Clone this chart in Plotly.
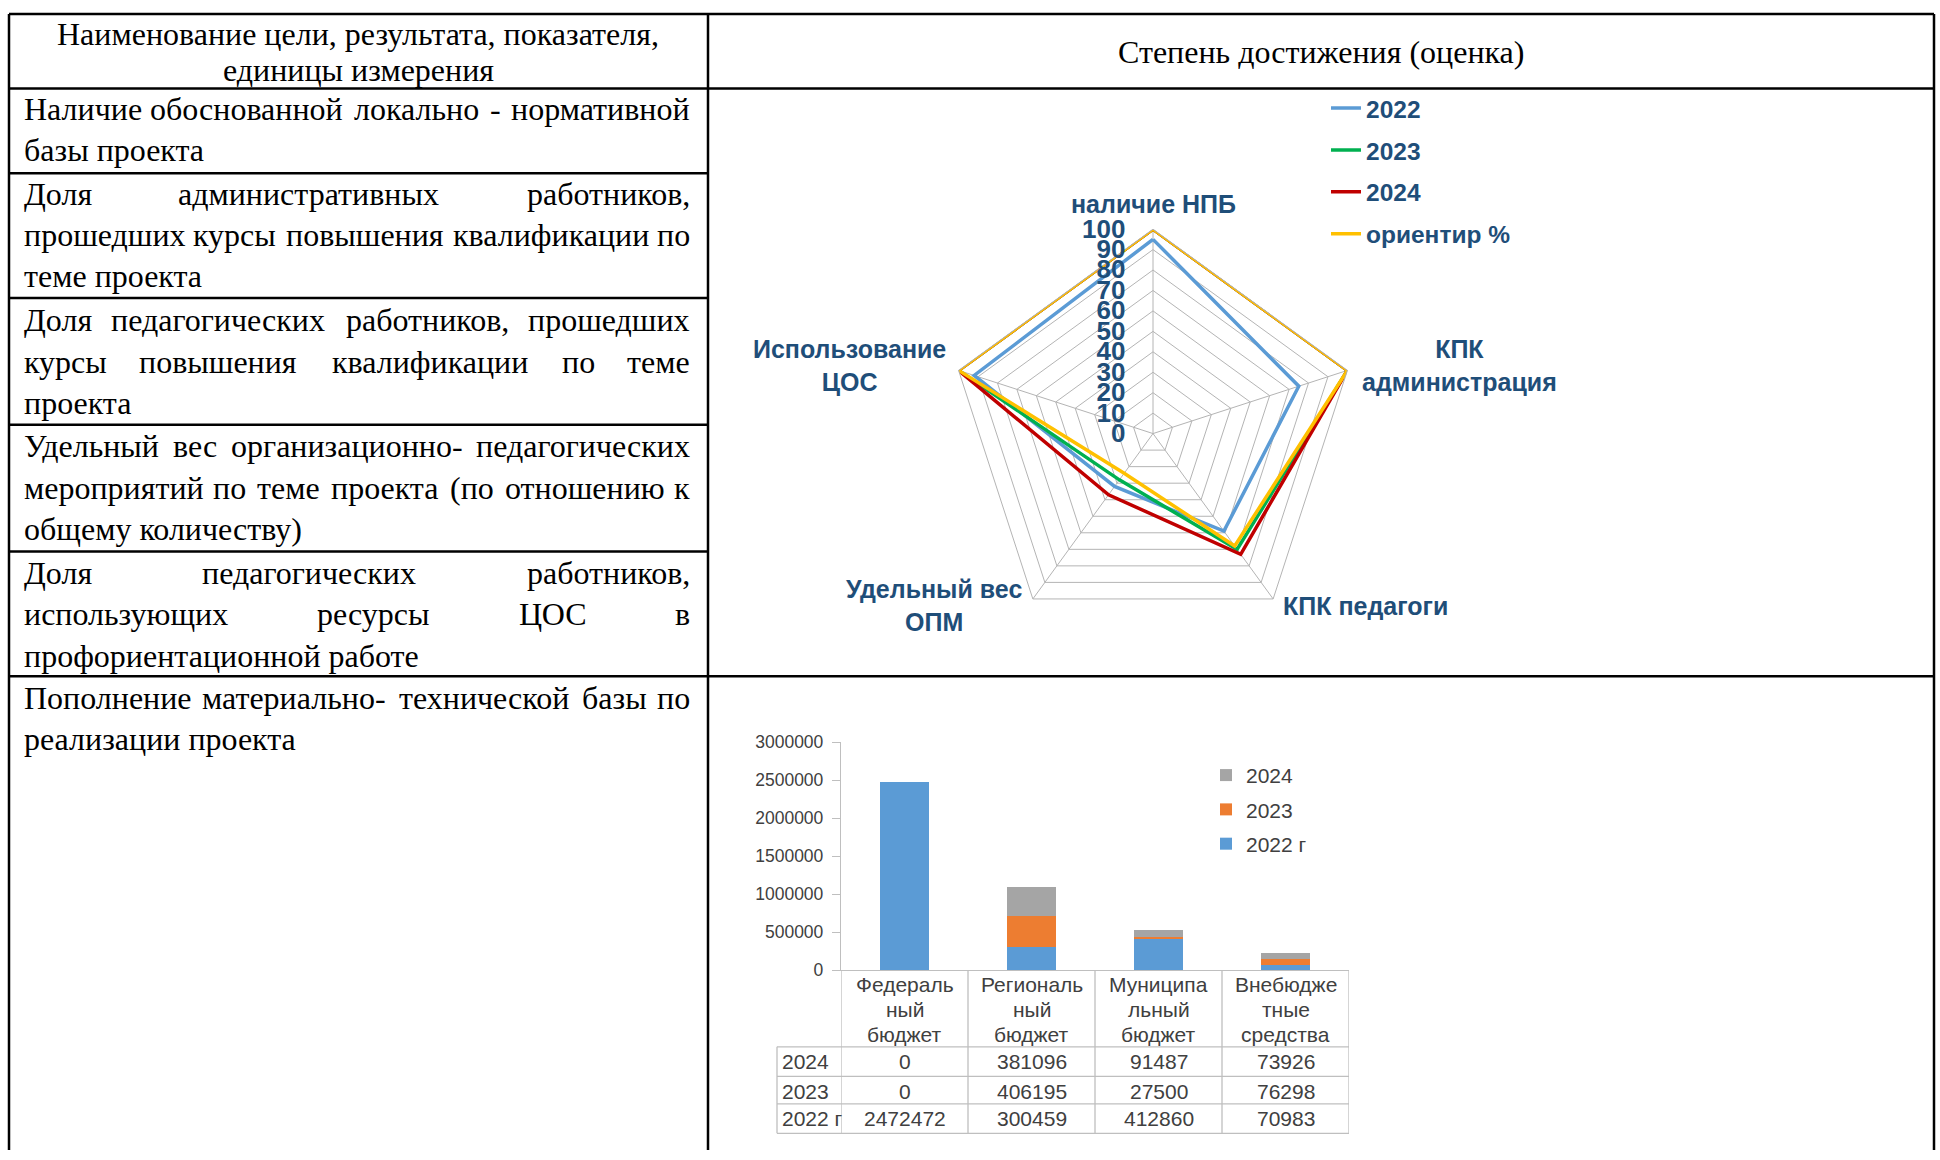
import plotly.graph_objects as go

W, H = 1940, 1160
def px(x):
    return x / W
def py(y):
    return 1 - y / H

# ---------------- data ----------------
header_left = ["Наименование цели, результата, показателя,", "единицы измерения"]
header_right = "Степень достижения (оценка)"

left_rows = [
    ["Наличие обоснованной локально - нормативной", "базы проекта"],
    ["Доля административных работников,", "прошедших курсы повышения квалификации по", "теме проекта"],
    ["Доля педагогических работников, прошедших", "курсы повышения квалификации по теме", "проекта"],
    ["Удельный вес организационно- педагогических", "мероприятий по теме проекта (по отношению к", "общему количеству)"],
    ["Доля педагогических работников,", "использующих ресурсы ЦОС в", "профориентационной работе"],
    ["Пополнение материально- технической базы по", "реализации проекта"],
]

radar_categories = ["наличие НПБ", "КПК администрация", "КПК педагоги", "Удельный вес ОПМ", "Использование ЦОС"]
radar_labels = ["наличие НПБ", "КПК<br>администрация", "КПК педагоги", "Удельный вес<br>ОПМ", "Использование<br>ЦОС"]
radar_series = ["2022", "2023", "2024", "ориентир %"]
r_2022 = [95, 75, 59, 32, 92]
r_2023 = [100, 100, 70, 28, 100]
r_2024 = [100, 100, 73, 37, 100]
r_target = [100, 100, 68, 24, 100]
radar_colors = ["#5B9BD5", "#00B050", "#C00000", "#FFC000"]

bar_categories = ["Федеральный бюджет", "Региональный бюджет", "Муниципальный бюджет", "Внебюджетные средства"]
bar_header_lines = [["Федераль", "ный", "бюджет"], ["Региональ", "ный", "бюджет"],
                    ["Муниципа", "льный", "бюджет"], ["Внебюдже", "тные", "средства"]]
bar_series = ["2022 г", "2023", "2024"]
b_2022 = [2472472, 300459, 412860, 70983]
b_2023 = [0, 406195, 27500, 76298]
b_2024 = [0, 381096, 91487, 73926]
bar_colors = ["#5B9BD5", "#ED7D31", "#A5A5A5"]

# ---------------- layout helpers ----------------
# approximate Times New Roman advance widths (1/1000 em) for justification
TNR = {
    'А': 722, 'Б': 574, 'В': 667, 'Г': 578, 'Д': 682, 'Е': 611, 'Ж': 896, 'З': 501, 'И': 722, 'Й': 722,
    'К': 667, 'Л': 678, 'М': 889, 'Н': 722, 'О': 722, 'П': 722, 'Р': 556, 'С': 667, 'Т': 611, 'У': 637,
    'Ф': 760, 'Х': 722, 'Ц': 722, 'Ч': 668, 'Ш': 1009, 'Щ': 1009, 'Ъ': 706, 'Ы': 872, 'Ь': 574, 'Э': 660,
    'Ю': 1028, 'Я': 667,
    'а': 444, 'б': 509, 'в': 472, 'г': 410, 'д': 509, 'е': 444, 'ж': 691, 'з': 395, 'и': 535, 'й': 535,
    'к': 486, 'л': 499, 'м': 633, 'н': 535, 'о': 500, 'п': 535, 'р': 500, 'с': 444, 'т': 437, 'у': 500,
    'ф': 648, 'х': 500, 'ц': 535, 'ч': 503, 'ш': 770, 'щ': 770, 'ъ': 517, 'ы': 672, 'ь': 456, 'э': 429,
    'ю': 747, 'я': 460, ',': 250, '-': 333, '(': 333, ')': 333, ' ': 250,
}
def tw(s, size):
    return sum(TNR.get(ch, 500) for ch in s) * size / 1000.0

FS = 32
TX0, TX1 = 22, 692
header_left_y = [24, 61]
row_line_y = [[101, 142], [187, 229, 271], [315, 358, 400], [444, 486, 528], [573, 615, 657], [700, 742]]

fig = go.Figure()

radar_values = [r_2022, r_2023, r_2024, r_target]
for name, vals, col in zip(radar_series, radar_values, radar_colors):
    fig.add_trace(go.Scatterpolar(
        r=vals + vals[:1], theta=radar_categories + radar_categories[:1],
        mode="lines", line=dict(color=col, width=3.5), name=name,
        legend="legend", legendgroup="r" + name, hoverinfo="skip"))

bar_values = [b_2022, b_2023, b_2024]
for rank, (name, vals, col) in enumerate(zip(bar_series, bar_values, bar_colors)):
    fig.add_trace(go.Bar(x=bar_categories, y=vals, name=name, marker=dict(color=col, line=dict(width=0)),
                         xaxis="x", yaxis="y", legend="legend2", legendgroup="b" + name,
                         legendrank=1000 - rank))

serif = "Liberation Serif, Times New Roman, serif"
sans = "Liberation Sans, Arial, sans-serif"
navy = "#1F4E79"
grey_txt = "#404040"

ann = []
def txt(t, x, y, anchor="left", xref="paper", size=FS, family=serif, color="black", weight="normal"):
    ann.append(dict(text=t, x=x, y=py(y), xref=xref, yref="paper", xanchor=anchor, yanchor="middle",
                    showarrow=False, align="center",
                    font=dict(family=family, size=size, color=color, weight=weight)))

# header
for t, y in zip(header_left, header_left_y):
    txt(t, px(358), y, "center")
txt(header_right, px(1321), 43, "center")

# left column text (justified except the last line of each paragraph)
for lines, ys in zip(left_rows, row_line_y):
    for li, (line, y) in enumerate(zip(lines, ys)):
        last = li == len(lines) - 1
        words = line.split(" ")
        if last or len(words) < 2:
            txt(line, px(TX0), y, "left")
            continue
        widths = [tw(w, FS) for w in words]
        gap = (TX1 - TX0 - sum(widths)) / (len(words) - 1)
        xcur = TX0
        for i, (w, wd) in enumerate(zip(words, widths)):
            if i == 0:
                txt(w, px(TX0), y, "left")
            elif i == len(words) - 1:
                txt(w, px(TX1), y, "right")
            else:
                txt(w, px(xcur + wd / 2), y, "center")
            xcur += wd + gap

# radar category labels
radar_label_pos = [(1153, 197), (1459, 362), (1365, 606), (934, 606), (849, 362)]
for lab, (x, y) in zip(radar_labels, radar_label_pos):
    txt(lab, px(x), y, "center", size=25, family=sans, color=navy, weight="bold")

# bar chart category header lines (inside the data table)
hdr_y = [992, 1017, 1042]
for c, lines in zip(bar_categories, bar_header_lines):
    for ln, y in zip(lines, hdr_y):
        txt(ln, c, y, "center", xref="x", size=21, family=sans, color=grey_txt)

# data table rows under bar chart
table_row_y = [1070, 1100, 1128]
table_rows = [("2024", b_2024), ("2023", b_2023), ("2022 г", b_2022)]
for (lab, vals), y in zip(table_rows, table_row_y):
    txt(lab, px(780), y, "left", size=21, family=sans, color=grey_txt)
    for c, v in zip(bar_categories, vals):
        txt(str(v), c, y, "center", xref="x", size=21, family=sans, color=grey_txt)

shapes = []
def line(x0, y0, x1, y1, color="black", width=2.5, xref="paper"):
    shapes.append(dict(type="line", xref=xref, yref="paper", x0=x0, y0=py(y0), x1=x1, y1=py(y1),
                       line=dict(color=color, width=width)))

# outer table borders
line(px(9), 4, px(1934), 4)
line(px(9), 4, px(9), 1160)
line(px(1934), 4, px(1934), 1160)
line(px(708), 4, px(708), 1160)
line(px(9), 80, px(1934), 80)
for y in [166, 293, 422, 551]:
    line(px(9), y, px(708), y)
line(px(9), 678, px(1934), 678)

# bar data-table grid
tg = "#BFBFBF"
for y in [1055, 1085, 1113, 1143]:
    line(px(777), y, px(1349), y, color=tg, width=1.3)
line(px(777), 1055, px(777), 1143, color=tg, width=1.3)
for xb in [-0.5, 0.5, 1.5, 2.5, 3.5]:
    line(xb, 977, xb, 1143, color=tg, width=1.3, xref="x")

fig.update_layout(
    width=W, height=H, margin=dict(l=0, r=0, t=0, b=0),
    paper_bgcolor="white", plot_bgcolor="white",
    polar=dict(
        domain=dict(x=[px(945), px(1361)], y=[py(639), py(223)]),
        gridshape="linear", bgcolor="white",
        angularaxis=dict(direction="clockwise", rotation=90, showticklabels=False, ticks="",
                         gridcolor="#B4B4B4", linecolor="#B4B4B4", showline=True, gridwidth=1),
        radialaxis=dict(range=[0, 100], dtick=10, angle=90, tickangle=90, side="counterclockwise",
                        showline=False, gridcolor="#B4B4B4", gridwidth=1,
                        ticks="outside", ticklen=18, tickcolor="rgba(0,0,0,0)",
                        tickfont=dict(family=sans, size=26, color=navy, weight="bold")),
    ),
    xaxis=dict(domain=[px(841), px(1349)], anchor="y", range=[-0.5, 3.5], type="category",
               showticklabels=False, showline=True, linecolor="#BFBFBF", linewidth=1.3, ticks="",
               showgrid=False),
    yaxis=dict(domain=[py(977), py(745)], anchor="x", range=[0, 3000000], dtick=500000,
               showline=True, linecolor="#BFBFBF", linewidth=1.3, ticks="outside", ticklen=8,
               tickcolor="#BFBFBF", showgrid=False, zeroline=False, tickformat="d",
               ticklabelstandoff=5,
               tickfont=dict(family=sans, size=17.5, color=grey_txt)),
    barmode="stack", bargap=0.61,
    legend=dict(x=px(1326), y=py(77), xanchor="left", yanchor="top", traceorder="grouped",
                tracegroupgap=7, bgcolor="rgba(0,0,0,0)",
                font=dict(family=sans, size=24.5, color=navy, weight="bold")),
    legend2=dict(x=px(1206), y=py(758), xanchor="left", yanchor="top", traceorder="grouped",
                 tracegroupgap=4, bgcolor="rgba(0,0,0,0)",
                 font=dict(family=sans, size=21, color=grey_txt)),
    annotations=ann, shapes=shapes, showlegend=True,
)

fig.write_html("out.html", config={"displayModeBar": False},
               post_script="document.body.style.margin='0';document.body.style.overflow='hidden';")
